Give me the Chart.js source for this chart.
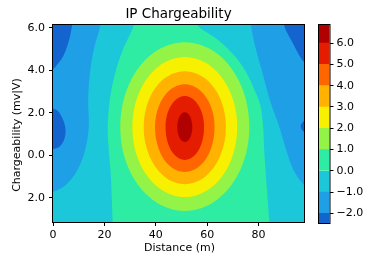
<!DOCTYPE html>
<html>
<head>
<meta charset="utf-8">
<script src="https://cdn.jsdelivr.net/npm/chart.js@4.4.1/dist/chart.umd.min.js"></script>
<style>
  html, body { margin: 0; padding: 0; background: #fff; }
  #wrap { position: relative; width: 375px; height: 260px; }
  #main { position: absolute; left: 0; top: 0; }
  #cbar { position: absolute; left: 305px; top: 0; }
</style>
</head>
<body>
<div id="wrap">
  <canvas id="main" width="375" height="260"></canvas>
  <canvas id="cbar" width="70" height="260"></canvas>
</div>
<script>
// ===== 데이터 =====
const xTicks = [0, 20, 40, 60, 80];
const yTicks = [-2, 0, 2, 4, 6];
const yTickLabels = ['2.0', '0.0', '2.0', '4.0', '6.0'];
const cbTicks = [-2, -1, 0, 1, 2, 3, 4, 5, 6];
const levels = [-2.45, -2, -1, 0, 1, 2, 3, 4, 5, 6, 6.85];
const levelColors = ['#1464d0', '#1f9fe6', '#1cc7da', '#2eeca4', '#93f447',
                     '#f7f000', '#ffb300', '#ff6600', '#e41c00', '#b00000'];

// contour boundaries [distance, chargeability]
const mintZone = [[31.8, 6.6], [31.4, 6.1], [27.1, 4.94], [24.0, 3.77], [22.1, 2.6], [21.3, 1.33],
  [21.7, 0.25], [22.5, -0.92], [22.9, -2.1], [23.2, -3.13], [23.3, -3.6], [84.4, -3.6], [84.2, -3.13],
  [83.0, -1.16], [82.2, 0.25], [81.8, 1.33], [80.7, 2.36], [78.3, 3.11], [75.2, 3.91], [70.5, 4.71],
  [63.5, 5.5], [56.4, 6.1], [55.5, 6.6]];
const blueLeft = [[-2, 6.6], [18.8, 6.6], [18.4, 6.1], [15.8, 4.94], [14.3, 3.77], [13.7, 2.6],
  [13.9, 1.33], [12.5, 0.25], [9.5, -0.69], [5.0, -1.39], [0, -1.72], [-2, -1.8]];
const blueRight = [[100, 6.6], [77.3, 6.6], [77.1, 6.1], [79.1, 4.94], [81.8, 3.77], [84.4, 2.6],
  [88.1, 1.33], [90.8, 0.25], [93.6, -0.69], [97.7, -1.39], [100, -1.5]];
const darkBlueTopLeft = [[-2, 6.6], [7.7, 6.6], [7.4, 6.1], [6.2, 5.4], [4.1, 4.7], [1.5, 4.25], [0, 4.05], [-2, 3.9]];
const darkBlueTopRight = [[89.8, 6.6], [90.0, 6.1], [92.8, 5.4], [95.9, 4.7], [97.7, 4.4], [100, 4.2], [100, 6.6]];
const darkBlueLeftBlob = [[-1, 2.25], [1.8, 2.1], [3.8, 1.7], [4.9, 1.2], [4.2, 0.7], [2.4, 0.4], [0, 0.3], [-1, 0.3]];
const darkBlueRightEdge = [[99, 1.8], [97.5, 1.6], [96.4, 1.38], [97.3, 1.15], [99, 1.0]];

const greenRing = [[76.4, 1.33], [73.04, 3.33], [63.85, 4.79], [51.3, 5.32], [38.75, 4.79], [29.56, 3.33],
  [26.2, 1.33], [29.56, -0.64], [38.75, -2.08], [51.3, -2.61], [63.85, -2.08], [73.04, -0.64]];
const yellowRing = [[71.7, 1.33], [68.97, 2.98], [61.5, 4.18], [51.3, 4.62], [41.1, 4.18], [33.63, 2.98],
  [30.9, 1.33], [33.63, -0.32], [41.1, -1.52], [51.3, -1.96], [61.5, -1.52], [68.97, -0.32]];
const orangeRing = [[67.3, 1.33], [65.16, 2.65], [59.3, 3.61], [51.3, 3.96], [43.3, 3.61], [37.44, 2.65],
  [35.3, 1.33], [37.44, -0.01], [43.3, -0.99], [51.3, -1.35], [59.3, -0.99], [65.16, -0.01]];
const orangeRedRing = [[62.9, 1.33], [61.35, 2.34], [57.1, 3.08], [51.3, 3.35], [45.5, 3.08], [41.25, 2.34],
  [39.7, 1.33], [41.25, 0.27], [45.5, -0.5], [51.3, -0.78], [57.1, -0.5], [61.35, 0.27]];
const redRing = [[58.8, 1.33], [57.8, 2.06], [55.05, 2.59], [51.3, 2.79], [47.55, 2.59], [44.8, 2.06],
  [43.8, 1.33], [44.8, 0.55], [47.55, -0.01], [51.3, -0.22], [55.05, -0.01], [57.8, 0.55]];
const darkRedRing = [[54.23, 1.33], [53.84, 1.68], [52.77, 1.94], [51.3, 2.03], [49.83, 1.94], [48.76, 1.68],
  [48.37, 1.33], [48.76, 0.98], [49.83, 0.72], [51.3, 0.63], [52.77, 0.72], [53.84, 0.98]];

// 그리는 순서 (아래 → 위)
const contourSets = [
  { pts: mintZone, level: 3 },
  { pts: blueLeft, level: 1 },
  { pts: blueRight, level: 1 },
  { pts: darkBlueTopLeft, level: 0 },
  { pts: darkBlueTopRight, level: 0 },
  { pts: darkBlueLeftBlob, level: 0 },
  { pts: darkBlueRightEdge, level: 0 },
  { pts: greenRing, level: 4, closed: true },
  { pts: yellowRing, level: 5, closed: true },
  { pts: orangeRing, level: 6, closed: true },
  { pts: orangeRedRing, level: 7, closed: true },
  { pts: redRing, level: 8, closed: true },
  { pts: darkRedRing, level: 9, closed: true },
];

Chart.defaults.font.family = "'DejaVu Sans', sans-serif";
Chart.defaults.font.size = 11;
Chart.defaults.color = '#000';

const fmt = v => (v < 0 ? '\u2212' : '') + Math.abs(v).toFixed(1);

// 닫힌 등고선은 loop 로 이어서 부드럽게
const loopPlugin = {
  id: 'loopRings',
  afterDatasetUpdate(chart, args) {
    if (chart.data.datasets[args.index].closed) {
      args.meta.dataset._loop = true;
      args.meta.dataset._fullLoop = true;
    }
  }
};

const framePlugin = {
  id: 'frame',
  beforeDatasetsDraw(chart) {
    const { ctx, chartArea: a } = chart;
    ctx.save();
    ctx.fillStyle = levelColors[2];
    ctx.fillRect(a.left, a.top, a.right - a.left, a.bottom - a.top);
    ctx.restore();
  },
  afterDraw(chart) {
    const { ctx, chartArea: a } = chart;
    ctx.save();
    ctx.strokeStyle = '#000';
    ctx.lineWidth = 1;
    ctx.strokeRect(a.left - 0.5, a.top - 0.5, a.right - a.left + 1, a.bottom - a.top + 1);
    ctx.fillStyle = '#000';
    ctx.textAlign = 'center';
    ctx.textBaseline = 'middle';
    ctx.font = "13.5px 'DejaVu Sans'";
    ctx.fillText('IP Chargeability', (a.left + a.right) / 2, 14);
    ctx.font = "11px 'DejaVu Sans'";
    ctx.fillText('Distance (m)', (a.left + a.right) / 2 + 1, 248.5);
    ctx.translate(17, 135);
    ctx.rotate(-Math.PI / 2);
    ctx.fillText('Chargeability (mv|V)', 0, 0);
    ctx.restore();
  }
};

new Chart(document.getElementById('main'), {
  type: 'line',
  data: {
    datasets: contourSets.map((c, i) => ({
      data: c.pts.map(p => ({ x: p[0], y: p[1] })),
      backgroundColor: levelColors[c.level],
      borderWidth: 0,
      pointRadius: 0,
      fill: 'shape',
      tension: 0.35,
      capBezierPoints: false,
      closed: !!c.closed,
      order: contourSets.length - i
    }))
  },
  options: {
    responsive: false,
    animation: false,
    events: [],
    layout: { padding: { left: 0, right: 71, top: 25, bottom: 0 } },
    plugins: { legend: { display: false }, tooltip: { enabled: false } },
    scales: {
      x: {
        type: 'linear', min: 0, max: 97.7,
        afterBuildTicks: s => { s.ticks = xTicks.map(v => ({ value: v })); },
        afterFit: s => { s.height = 38; },
        ticks: { padding: 3, callback: v => String(v) },
        grid: { drawOnChartArea: false, drawTicks: true, tickLength: 4, tickColor: '#000' },
        border: { display: false }
      },
      y: {
        type: 'linear', min: -3.13, max: 6.13,
        afterBuildTicks: s => { s.ticks = yTicks.map(v => ({ value: v })); },
        afterFit: s => { s.width = 53; },
        ticks: { padding: 4, callback: (v, i) => yTickLabels[i] },
        grid: { drawOnChartArea: false, drawTicks: true, tickLength: 4, tickColor: '#000' },
        border: { display: false }
      }
    }
  },
  plugins: [loopPlugin, framePlugin]
});

// ===== 컬러바 =====
const cbarFrame = {
  id: 'cbarFrame',
  afterDraw(chart) {
    const { ctx, chartArea: a } = chart;
    ctx.save();
    ctx.strokeStyle = '#000';
    ctx.lineWidth = 1;
    ctx.strokeRect(a.left - 0.5, a.top - 0.5, a.right - a.left + 1, a.bottom - a.top + 1);
    ctx.restore();
  }
};

new Chart(document.getElementById('cbar'), {
  type: 'bar',
  data: {
    labels: [''],
    datasets: levelColors.map((c, i) => ({
      data: [[levels[i], levels[i + 1]]],
      backgroundColor: c,
      borderWidth: 0,
      barPercentage: 1,
      categoryPercentage: 1
    }))
  },
  options: {
    responsive: false,
    animation: false,
    events: [],
    layout: { padding: { left: 14, right: 0, top: 25, bottom: 37 } },
    plugins: { legend: { display: false }, tooltip: { enabled: false } },
    scales: {
      x: { display: false, stacked: true },
      y: {
        position: 'right', min: levels[0], max: levels[levels.length - 1],
        afterBuildTicks: s => { s.ticks = cbTicks.map(v => ({ value: v })); },
        afterFit: s => { s.width = 45.5; },
        ticks: { padding: 3, callback: v => fmt(v) },
        grid: { drawOnChartArea: false, drawTicks: true, tickLength: 4, tickColor: '#000' },
        border: { display: false }
      }
    }
  },
  plugins: [cbarFrame]
});
</script>
</body>
</html>
